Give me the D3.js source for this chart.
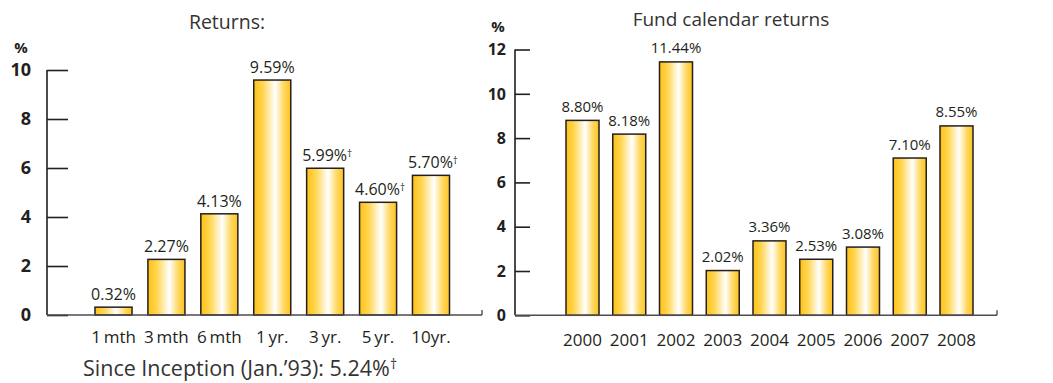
<!DOCTYPE html>
<html>
<head>
<meta charset="utf-8">
<script src="https://cdn.jsdelivr.net/npm/d3@7"></script>
<style>
  body { margin: 0; background: #fff; }
  svg { display: block; }
  text { font-family: "Open Sans", "Noto Sans", sans-serif; fill: #231f20; }
</style>
</head>
<body>
<svg id="chart" width="1053" height="383"></svg>
<script>
// ---- Data ----
const leftCategories = ["1\u2009mth", "3\u2009mth", "6\u2009mth", "1\u2009yr.", "3\u2009yr.", "5\u2009yr.", "10yr."];
const leftValues = [0.32, 2.27, 4.13, 9.59, 5.99, 4.60, 5.70];
const leftLabels = ["0.32%", "2.27%", "4.13%", "9.59%", "5.99%", "4.60%", "5.70%"];
const leftDagger = [false, false, false, false, true, true, true];
const leftTicks = [0, 2, 4, 6, 8, 10];

const rightCategories = ["2000", "2001", "2002", "2003", "2004", "2005", "2006", "2007", "2008"];
const rightValues = [8.80, 8.18, 11.44, 2.02, 3.36, 2.53, 3.08, 7.10, 8.55];
const rightLabels = ["8.80%", "8.18%", "11.44%", "2.02%", "3.36%", "2.53%", "3.08%", "7.10%", "8.55%"];
const rightTicks = [0, 2, 4, 6, 8, 10, 12];

const leftTitle = "Returns:";
const rightTitle = "Fund calendar returns";
const footnote = "Since Inception (Jan.\u201993): 5.24%";

// ---- Setup ----
const svg = d3.select("#chart");
const defs = svg.append("defs");
const grad = defs.append("linearGradient").attr("id", "gold")
  .attr("x1", "0%").attr("x2", "100%").attr("y1", "0%").attr("y2", "0%");
[["0%", "#ffc114"], ["25%", "#ffd653"], ["58%", "#ffffff"], ["80%", "#ffda6a"], ["100%", "#ffc21a"]]
  .forEach(([o, c]) => grad.append("stop").attr("offset", o).attr("stop-color", c));

function drawChart(cfg) {
  const g = svg.append("g");
  const x = d3.scaleBand().domain(cfg.categories).range(cfg.xRange).paddingInner(cfg.padInner).paddingOuter(0);
  const y = d3.scaleLinear().domain(cfg.yDomain).range(cfg.yRange);

  // title
  g.append("text").attr("x", cfg.titleX).attr("y", cfg.titleY).attr("text-anchor", "middle")
    .style("font-size", cfg.titleSize + "px").style("fill", "#333").text(cfg.title);

  // % unit
  g.append("text").attr("x", cfg.pctX).attr("y", cfg.pctY).attr("text-anchor", "middle")
    .style("font-size", cfg.pctSize + "px").style("font-weight", "bold").text("%");

  // y axis
  const yAxis = d3.axisRight(y).tickValues(cfg.ticks).tickSize(cfg.tickLen).tickFormat("");
  const ya = g.append("g").attr("transform", `translate(${cfg.axisX},0)`).call(yAxis);
  ya.select(".domain").remove();
  ya.selectAll(".tick line").attr("stroke", "#231f20").attr("stroke-width", 1.6);
  g.append("line").attr("x1", cfg.axisX).attr("x2", cfg.axisX)
    .attr("y1", y(cfg.yDomain[1])).attr("y2", y(0)).attr("stroke", "#231f20").attr("stroke-width", 1.6);
  // tick labels
  g.selectAll(".ylab").data(cfg.ticks).join("text").attr("class", "ylab")
    .attr("x", cfg.labelRight).attr("y", d => y(d)).attr("dy", "0.36em")
    .attr("text-anchor", "end").style("font-size", cfg.tickSize + "px").style("font-weight", "bold").text(d => d);

  // bars
  g.selectAll(".bar").data(cfg.values).join("rect").attr("class", "bar")
    .attr("x", (d, i) => x(cfg.categories[i])).attr("width", x.bandwidth())
    .attr("y", d => y(d)).attr("height", d => y(0) - y(d))
    .attr("fill", "url(#gold)").attr("stroke", "#231f20").attr("stroke-width", 1.5);

  // baseline
  g.append("line").attr("x1", cfg.axisX).attr("x2", cfg.baseEnd).attr("y1", y(0)).attr("y2", y(0))
    .attr("stroke", "#4d4d4f").attr("stroke-width", 1.6);
  g.append("line").attr("x1", cfg.baseEnd).attr("x2", cfg.baseEnd).attr("y1", y(0)).attr("y2", y(0) - 5)
    .attr("stroke", "#4d4d4f").attr("stroke-width", 1.4);

  // value labels
  const vl = g.selectAll(".vlab").data(cfg.values).join("text").attr("class", "vlab")
    .attr("x", (d, i) => x(cfg.categories[i]) + x.bandwidth() / 2 + (cfg.dagger && cfg.dagger[i] ? 2 : 0))
    .attr("y", d => y(d) - cfg.labelGap).attr("text-anchor", "middle")
    .style("font-size", cfg.valueSize + "px");
  vl.append("tspan").text((d, i) => cfg.labels[i]);
  vl.filter((d, i) => cfg.dagger && cfg.dagger[i]).append("tspan")
    .attr("dy", "-0.4em").style("font-size", "10px").text("\u2020");

  // category labels
  g.selectAll(".xlab").data(cfg.categories).join("text").attr("class", "xlab")
    .attr("x", d => x(d) + x.bandwidth() / 2).attr("y", cfg.xLabelY).attr("text-anchor", "middle")
    .style("font-size", "17px").text(d => d);
  return g;
}

drawChart({
  categories: leftCategories, values: leftValues, labels: leftLabels, dagger: leftDagger, ticks: leftTicks,
  xRange: [95, 449.5], padInner: 0.3, yDomain: [0, 10], yRange: [315, 70],
  axisX: 47, tickLen: 21, labelRight: 31, baseEnd: 482, tickSize: 18, pctSize: 15, valueSize: 16,
  title: leftTitle, titleX: 227, titleY: 29, titleSize: 19.5,
  pctX: 21, pctY: 53, labelGap: 7, xLabelY: 343
});

drawChart({
  categories: rightCategories, values: rightValues, labels: rightLabels, ticks: rightTicks,
  xRange: [566, 973], padInner: 0.294, yDomain: [0, 12], yRange: [315.3, 49.5],
  axisX: 515, tickLen: 15, labelRight: 506, baseEnd: 997, tickSize: 16, pctSize: 15, valueSize: 15,
  title: rightTitle, titleX: 731, titleY: 26, titleSize: 19,
  pctX: 498, pctY: 32, labelGap: 8.5, xLabelY: 346
});

// footnote
const fn = svg.append("text").attr("x", 83).attr("y", 376).style("font-size", "21.5px").style("fill", "#333");
fn.append("tspan").text(footnote);
fn.append("tspan").attr("dy", "-0.5em").style("font-size", "14px").text("\u2020");
</script>
</body>
</html>
